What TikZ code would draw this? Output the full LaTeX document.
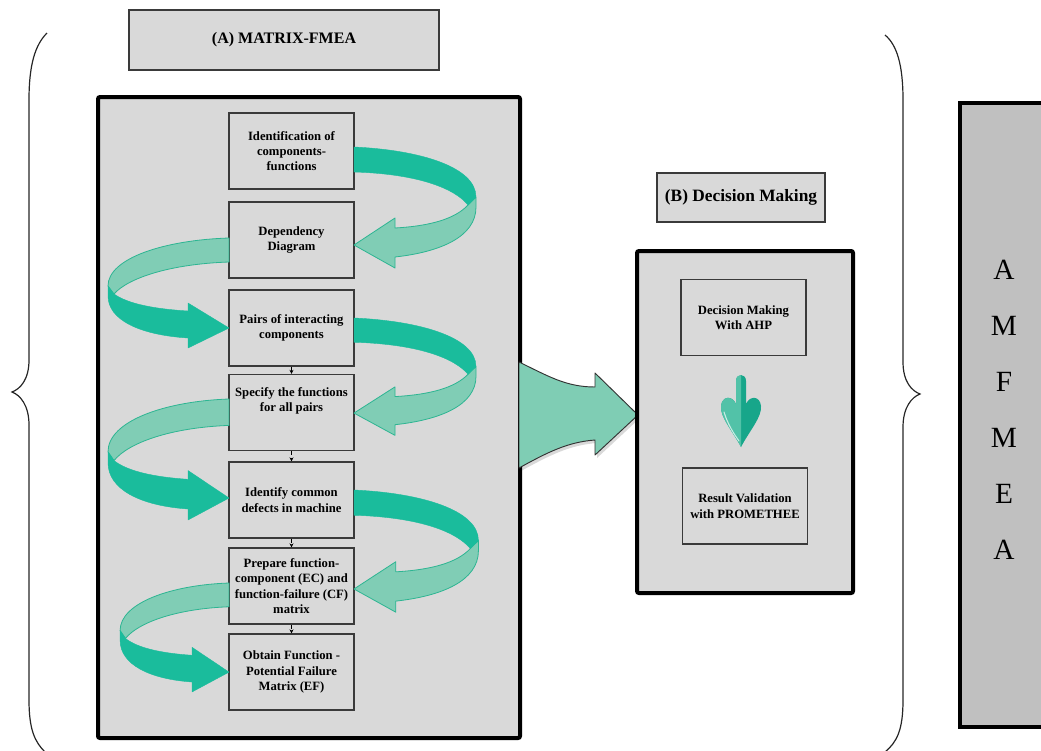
\documentclass[tikz,border=0pt]{standalone}
\usepackage{fontspec}
\setmainfont{Liberation Serif}
\usetikzlibrary{arrows.meta,fit,calc}
\definecolor{panel}{HTML}{D9D9D9}
\definecolor{sidegray}{HTML}{C0C0C0}
\definecolor{boxline}{HTML}{3A3A3A}
\definecolor{tealdark}{HTML}{1ABC9C}
\definecolor{teallight}{HTML}{80CDB5}
\definecolor{tealedge}{HTML}{2DB592}
\definecolor{arrowfill}{HTML}{7FCDB4}
\definecolor{downlight}{HTML}{52C2A8}
\definecolor{downdark}{HTML}{17A68A}
\tikzset{
  frame/.style={draw=black, line width=3pt, fill=panel, rounded corners=1.5pt, inner sep=0pt},
  stepbox/.style={draw=boxline, line width=1pt, fill=panel, inner sep=0pt, align=center,
    minimum width=93.75pt, minimum height=57pt,
    font=\bfseries\fontsize{9.5}{11.5}\selectfont},
  titlebox/.style={draw=boxline, line width=1pt, fill=panel, inner sep=0pt, align=center},
  backband/.style={fill=teallight, draw=tealedge, line width=0.6pt, line join=round},
  frontband/.style={fill=tealdark, draw=tealdark, line width=0.3pt, line join=round},
  brace/.style={draw=black!85, line width=0.9pt},
  flowlink/.style={densely dashed, line width=0.6pt, -{Stealth[length=3pt,width=3pt]}}
}
\newcommand\RibbonR[3]{%
  \begin{scope}[shift={(354,#1)}, xscale=#2, yscale=#3]
    \path[backband] (114,58) .. controls (101,72) and (76,79) .. (41,81) -- (41,71) -- (0,98)
      -- (41,121) -- (41,110) .. controls (86,105) and (122,90) .. (122,60) -- (122,50) -- cycle;
    \path[frontband] (0,0) .. controls (66,3) and (122,20) .. (122,50) -- (114,58)
      .. controls (101,42) and (66,27) .. (0,25) -- cycle;
  \end{scope}}
\newcommand\RibbonL[3]{%
  \begin{scope}[shift={(229,#1)}, xscale=#2, yscale=#3]
    \path[backband] (0,0) .. controls (-64,2) and (-121,20) .. (-121,48) -- (-115,56)
      .. controls (-101,40) and (-59,26) .. (0,24) -- cycle;
    \path[frontband] (-115,56) .. controls (-101,66) and (-74,71) .. (-41,73) -- (-41,65) -- (0,90)
      -- (-41,110) -- (-41,100) .. controls (-89,97) and (-121,82) .. (-121,58) -- (-121,48) -- cycle;
  \end{scope}}
\begin{document}
\begin{tikzpicture}[x=0.75pt,y=-0.75pt]
\useasboundingbox (0,0) rectangle (1041,750);
\clip (0,0) rectangle (1041,750);

% braces
\draw[brace] (47,33) .. controls (35,45) and (29,65) .. (29,100) -- (29,360)
  .. controls (29,380) and (20,389) .. (12,392) .. controls (20,395) and (29,405) .. (29,425)
  -- (29,700) .. controls (29,730) and (35,742) .. (45,752);
\draw[brace] (885,35) .. controls (897,45) and (903,65) .. (903,100) -- (903,362)
  .. controls (903,382) and (912,391) .. (920,394) .. controls (912,397) and (903,407) .. (903,427)
  -- (903,700) .. controls (903,730) and (897,742) .. (885,752);

% (A) panel
\node[titlebox, minimum width=232.5pt, minimum height=45pt, font=\bfseries\fontsize{12}{14}\selectfont] (titleA) at (284,40) {(A) MATRIX-FMEA};
\node[frame, fit={(98,97) (520,738)}] (frameA) {};

\node[stepbox] (b1) at (291.5,151) {Identification of\\components-\\functions};
\node[stepbox] (b2) at (291.5,240) {Dependency\\Diagram};
\node[stepbox] (b3) at (291.5,328) {Pairs of interacting\\components};
\node[stepbox] (b4) at (291.5,412.5) {Specify the functions\\for all pairs\\[8pt]};
\node[stepbox] (b5) at (291.5,500) {Identify common\\defects in machine};
\node[stepbox] (b6) at (291.5,586) {Prepare function-\\component (EC) and\\function-failure (CF)\\matrix};
\node[stepbox] (b7) at (291.5,672) {Obtain Function -\\Potential Failure\\Matrix (EF)};

\draw[flowlink] (b3.south) -- (b4.north);
\draw[flowlink] (b4.south) -- (b5.north);
\draw[flowlink] (b5.south) -- (b6.north);
\draw[flowlink] (b6.south) -- (b7.north);

% ribbons
\RibbonR{147}{1}{1}
\RibbonR{318}{1}{0.97}
\RibbonR{490}{1.02}{1.01}
\RibbonL{238}{1}{1}
\RibbonL{399}{1}{1.1}
\RibbonL{583}{0.9}{0.99}

% big arrow A -> B
\fill[black, opacity=0.15] (521,365) .. controls (550,378) and (568,390) .. (597,390) -- (597,376)
  -- (640,418) -- (597,458) -- (597,443) .. controls (570,445) and (550,455) .. (521,471) -- cycle;
\draw[fill=arrowfill, draw=black!80, line width=0.7pt, line join=round]
  (519,362) .. controls (548,376) and (566,387) .. (595,387) -- (595,373)
  -- (638,415) -- (595,455) -- (595,440) .. controls (568,442) and (548,452) .. (519,468) -- cycle;

% (B) panel
\node[titlebox, minimum width=126pt, minimum height=36.75pt, font=\bfseries\fontsize{13}{15}\selectfont] (titleB) at (741,197.5) {(B) Decision Making};
\node[frame, fit={(637,251) (853,593)}] (frameB) {};
\node[stepbox] (ahp) at (743.5,317.5) {Decision Making\\With AHP};
\node[stepbox] (prom) at (745,506) {Result Validation\\with PROMETHEE};

% down arrow between AHP and PROMETHEE
\path[fill=downdark] (741,447) .. controls (732,430) and (720,417) .. (721,406)
  .. controls (722,396) and (732,395) .. (736,404) -- (736,381)
  .. controls (736,373) and (746,373) .. (746,381) -- (746,404)
  .. controls (750,395) and (760,396) .. (761,406)
  .. controls (762,417) and (750,430) .. (741,447) -- cycle;
\begin{scope}
  \clip (700,360) rectangle (741,460);
  \path[fill=downlight] (741,447) .. controls (732,430) and (720,417) .. (721,406)
    .. controls (722,396) and (732,395) .. (736,404) -- (736,381)
    .. controls (736,373) and (746,373) .. (746,381) -- (746,404)
    .. controls (750,395) and (760,396) .. (761,406)
    .. controls (762,417) and (750,430) .. (741,447) -- cycle;
\end{scope}
\draw[white, opacity=0.7, line width=0.8pt, line cap=round] (724,412) .. controls (728,425) and (734,434) .. (739,441);

% right side panel
\node[draw=black, line width=2.3pt, fill=sidegray, inner sep=0pt, fit={(960,103) (1060,727)}] (side) {};
\node[align=center, font=\fontsize{22}{42}\selectfont] (amfmea) at (1004,410) {A\\M\\F\\M\\E\\A};
\end{tikzpicture}
\end{document}
